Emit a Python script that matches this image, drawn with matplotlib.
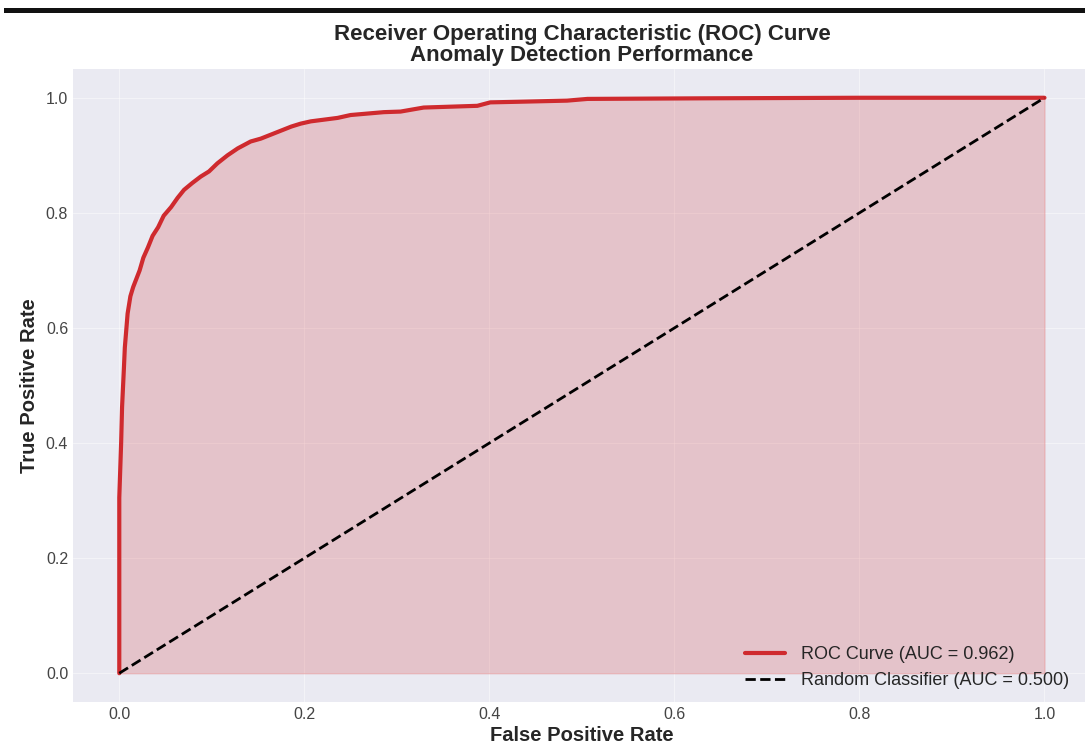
import matplotlib
matplotlib.use("Agg")
import matplotlib.pyplot as plt
from matplotlib.patches import Rectangle

# ROC curve points
fpr = [0.0, 0.0, 0.0, 0.002, 0.003, 0.005, 0.006, 0.009, 0.012, 0.015, 0.022,
       0.026, 0.031, 0.036, 0.042, 0.048, 0.056, 0.063, 0.070, 0.079, 0.088,
       0.097, 0.106, 0.117, 0.128, 0.142, 0.153, 0.164, 0.186, 0.196, 0.207,
       0.236, 0.250, 0.286, 0.304, 0.329, 0.387, 0.401, 0.430, 0.484, 0.506,
       0.628, 0.80, 1.0]
tpr = [0.0, 0.150, 0.305, 0.400, 0.462, 0.530, 0.566, 0.625, 0.655, 0.671, 0.700,
       0.722, 0.740, 0.760, 0.775, 0.795, 0.810, 0.826, 0.840, 0.852, 0.863,
       0.872, 0.886, 0.900, 0.912, 0.924, 0.929, 0.936, 0.950, 0.955, 0.959,
       0.965, 0.970, 0.975, 0.976, 0.983, 0.986, 0.992, 0.993, 0.995, 0.998,
       0.999, 1.0, 1.0]
auc_roc = 0.962
auc_random = 0.500

plt.style.use("seaborn-v0_8-darkgrid")
plt.rcParams['font.family'] = ['Liberation Sans', 'DejaVu Sans']

fig = plt.figure(figsize=(10.85, 7.45), dpi=100)
ax = fig.add_axes([0.0673, 0.0577, 0.938, 0.8497])

red = '#cf2a2e'
ax.plot(fpr, tpr, color=red, lw=3, label=f'ROC Curve (AUC = {auc_roc:.3f})')
ax.fill_between(fpr, tpr, color=red, alpha=0.2)
ax.plot([0, 1], [0, 1], 'k--', lw=2, label=f'Random Classifier (AUC = {auc_random:.3f})')

ax.set_xlim(-0.05, 1.05)
ax.set_ylim(-0.05, 1.05)
ax.set_xticks([0.0, 0.2, 0.4, 0.6, 0.8, 1.0])
ax.set_yticks([0.0, 0.2, 0.4, 0.6, 0.8, 1.0])
ax.grid(True, color='white', alpha=0.45)
ax.tick_params(labelsize=11.5, labelcolor='#444444')
ax.set_xlabel('False Positive Rate', fontsize=14.5, fontweight='bold', labelpad=3)
ax.set_ylabel('True Positive Rate', fontsize=14.5, fontweight='bold', labelpad=5)
ax.set_title('Receiver Operating Characteristic (ROC) Curve\nAnomaly Detection Performance',
             fontsize=16, fontweight='bold', linespacing=1.0, pad=6)
ax.legend(loc='lower right', fontsize=13, frameon=False,
          bbox_to_anchor=(0.995, -0.005), handlelength=2.2, handletextpad=0.9)

# black bar across the top of the screenshot
fig.add_artist(Rectangle((0.004, 0.983), 0.996, 0.006, transform=fig.transFigure,
                         color='#111111', lw=0))

fig.savefig('out.png', dpi=100)
